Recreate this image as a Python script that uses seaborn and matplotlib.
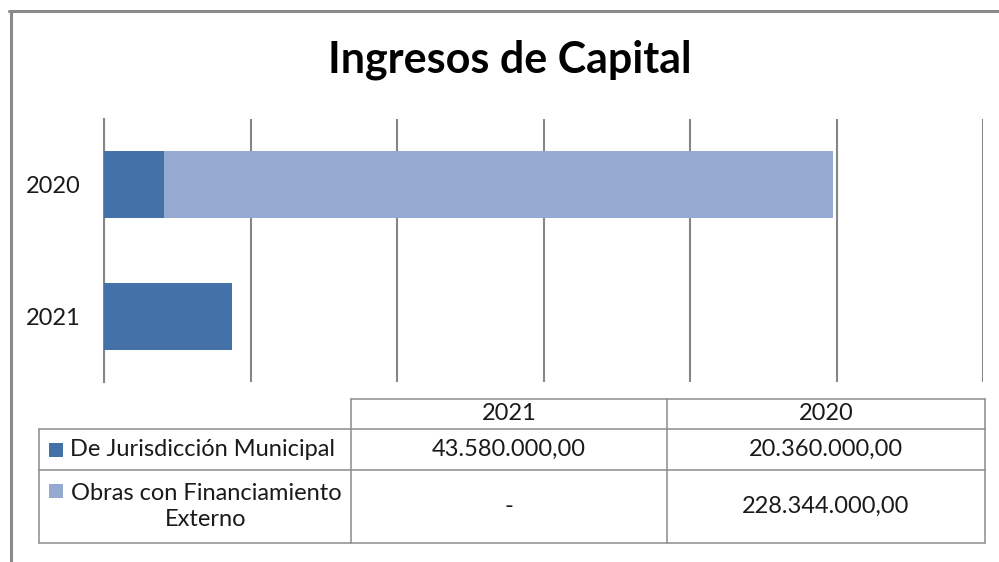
import numpy as np
import pandas as pd
import matplotlib.pyplot as plt
import seaborn as sns
from matplotlib.patches import Rectangle
from matplotlib.lines import Line2D

# Chart data (pesos)
years = ['2020', '2021']
series = ['De Jurisdicción Municipal', 'Obras con Financiamiento\nExterno']
municipal = [20360000.00, 43580000.00]
externo = [228344000.00, None]
table_years = ['2021', '2020']
colors = ['#4472A8', '#95AAD1']

W, H = 999, 562

def fmt(v):
    if v is None:
        return '-'
    s = f'{v:,.2f}'
    return s.replace(',', 'X').replace('.', ',').replace('X', '.')

sns.set_style('white')
plt.rcParams['font.family'] = ['Lato', 'DejaVu Sans']

fig = plt.figure(figsize=(W / 100, H / 100), dpi=100)

def fx(px):
    return px / W

def fy(py):
    return 1 - py / H

ax = fig.add_axes([fx(104), fy(382), fx(983) - fx(104), fy(119) - fy(382)])

df = pd.DataFrame({
    'year': years,
    'municipal': municipal,
    'externo': [e if e is not None else 0 for e in externo],
})
df['total'] = df['municipal'] + df['externo']

sns.barplot(data=df, y='year', x='total', order=years, orient='h',
            color=colors[1], width=0.51, saturation=1, linewidth=0, ax=ax, zorder=3)
sns.barplot(data=df, y='year', x='municipal', order=years, orient='h',
            color=colors[0], width=0.51, saturation=1, linewidth=0, ax=ax, zorder=4)

ax.set_xlim(0, 300e6)
ax.set_ylim(1.5, -0.5)
ax.set_xticks(np.arange(0, 300e6 + 1, 50e6))
ax.set_xticklabels([])
ax.tick_params(axis='x', length=0)
ax.tick_params(axis='y', length=0, labelsize=17, pad=17, colors='#1a1a1a')
ax.xaxis.grid(True, color='#868686', linewidth=1.5)
ax.set_axisbelow(True)
ax.set_xlabel('')
ax.set_ylabel('')
for side in ['top', 'right', 'bottom']:
    ax.spines[side].set_visible(False)
ax.spines['left'].set_color('#868686')
ax.spines['left'].set_linewidth(1.5)

fig.text(fx(510), fy(60), 'Ingresos de Capital', ha='center', va='center',
         fontsize=31, fontweight='bold', color='black')

# outer chart border (left and top)
fig.add_artist(Line2D([fx(10.5), fx(10.5)], [fy(10.5), 0], color='#8a8a8a', linewidth=2.2))
fig.add_artist(Line2D([fx(9), 1], [fy(10.5), fy(10.5)], color='#8a8a8a', linewidth=2.2))

# data table
lc = '#8c8c8c'
lw = 1.1
col_x = [39, 351, 667, 985]
row_y = [399, 429, 470, 543]

def hline(x0, x1, y):
    fig.add_artist(Line2D([fx(x0), fx(x1)], [fy(y), fy(y)], color=lc, linewidth=lw))

def vline(x, y0, y1):
    fig.add_artist(Line2D([fx(x), fx(x)], [fy(y0), fy(y1)], color=lc, linewidth=lw))

hline(col_x[1], col_x[3], row_y[0])
for y in row_y[1:]:
    hline(col_x[0], col_x[3], y)
vline(col_x[0], row_y[1], row_y[3])
for x in col_x[1:]:
    vline(x, row_y[0], row_y[3])

for j, yr in enumerate(table_years):
    cx = (col_x[j + 1] + col_x[j + 2]) / 2
    fig.text(fx(cx), fy((row_y[0] + row_y[1]) / 2), yr, ha='center', va='center',
             fontsize=17, color='#1a1a1a')

values_by_year = {
    '2021': [municipal[1], externo[1]],
    '2020': [municipal[0], externo[0]],
}
for i, name in enumerate(series):
    cy = (row_y[i + 1] + row_y[i + 2]) / 2
    nlines = name.count('\n') + 1
    my = cy - (nlines - 1) * 15.5
    fig.add_artist(Rectangle((fx(49), fy(my + 7)), fx(14), fy(0) - fy(14),
                             facecolor=colors[i], edgecolor='none'))
    tx = 203 if i == 0 else 206
    fig.text(fx(tx), fy(cy), name, ha='center', va='center', fontsize=17,
             color='#1a1a1a', multialignment='center', linespacing=1.3)
    for j, yr in enumerate(table_years):
        cx = (col_x[j + 1] + col_x[j + 2]) / 2
        fig.text(fx(cx), fy(cy), fmt(values_by_year[yr][i]), ha='center',
                 va='center', fontsize=17, color='#1a1a1a')

fig.savefig('out.png', dpi=100)
